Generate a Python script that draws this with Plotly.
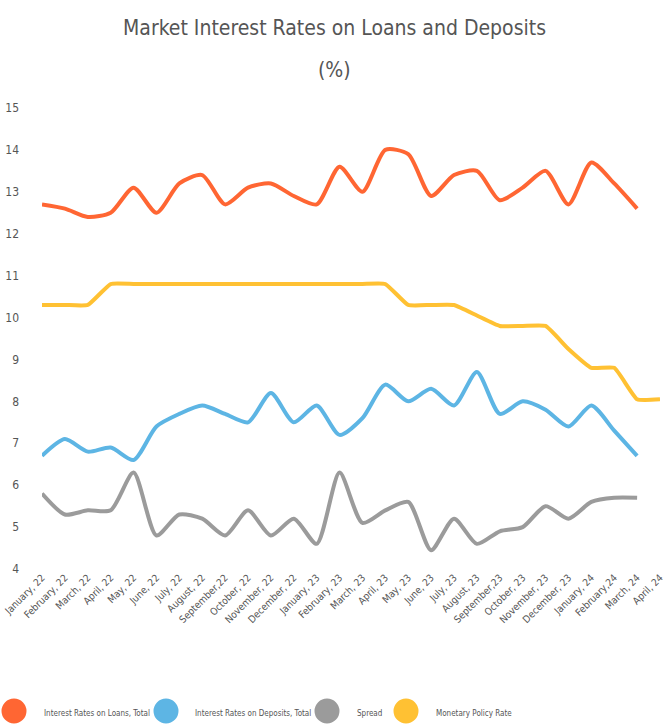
import plotly.graph_objects as go

months = ["January, 22", "February, 22", "March, 22", "April, 22", "May, 22", "June, 22",
          "July, 22", "August, 22", "September,22", "October, 22", "November, 22", "December, 22",
          "January, 23", "February, 23", "March, 23", "April, 23", "May, 23", "June, 23",
          "July, 23", "August, 23", "September,23", "October, 23", "November, 23", "December, 23",
          "January, 24", "February,24", "March, 24", "April, 24"]

loans = [12.7, 12.6, 12.4, 12.5, 13.1, 12.5, 13.2, 13.4, 12.7, 13.1, 13.2, 12.9, 12.7, 13.6,
         13.0, 14.0, 13.9, 12.9, 13.4, 13.5, 12.8, 13.1, 13.5, 12.7, 13.7, 13.2, 12.6]
deposits = [6.7, 7.1, 6.8, 6.9, 6.6, 7.4, 7.7, 7.9, 7.7, 7.5, 8.2, 7.5, 7.9, 7.2,
            7.6, 8.4, 8.0, 8.3, 7.9, 8.7, 7.7, 8.0, 7.8, 7.4, 7.9, 7.3, 6.7]
spread = [5.8, 5.3, 5.4, 5.4, 6.3, 4.8, 5.3, 5.2, 4.8, 5.4, 4.8, 5.2, 4.6, 6.3,
          5.1, 5.4, 5.6, 4.45, 5.2, 4.6, 4.9, 5.0, 5.5, 5.2, 5.6, 5.7, 5.7]
policy = [10.3, 10.3, 10.3, 10.8, 10.8, 10.8, 10.8, 10.8, 10.8, 10.8, 10.8, 10.8, 10.8, 10.8,
          10.8, 10.8, 10.3, 10.3, 10.3, 10.05, 9.8, 9.8, 9.8, 9.25, 8.8, 8.8, 8.05, 8.05]

names = ["Interest Rates on Loans, Total", "Interest Rates on Deposits, Total",
         "Spread", "Monetary Policy Rate"]
colors = ["#FF6633", "#5DB5E4", "#9B9B9B", "#FFC133"]
series = [loans, deposits, spread, policy]
smooth = [0.7, 0.7, 0.7, 0.4]  # policy rate is step-like, keep it from overshooting

FONT = "DejaVu Sans Condensed, DejaVu Sans, sans-serif"

fig = go.Figure()
for name, col, vals, sm in zip(names, colors, series, smooth):
    fig.add_trace(go.Scatter(x=months[:len(vals)], y=vals, mode="lines", name=name,
                             line=dict(color=col, width=4, shape="spline", smoothing=sm),
                             showlegend=False))

# hand-made legend with big circles
W, H = 669, 727
L, R, T, B = 42, 9, 108, 158
pw, ph = W - L - R, H - T - B
def px_x(px):
    return (px - L) / pw
def px_y(py):
    return (H - B - py) / ph

leg_circle_x = [14, 166, 327, 406]
leg_text_x = [42, 193, 355, 434]
shapes = []
annots = []
for name, col, cx, tx in zip(names, colors, leg_circle_x, leg_text_x):
    shapes.append(dict(type="circle", xref="paper", yref="paper", xsizemode="pixel", ysizemode="pixel",
                       xanchor=px_x(cx), yanchor=px_y(711), x0=-12.5, x1=12.5, y0=-12.5, y1=12.5,
                       fillcolor=col, line=dict(width=0)))
    annots.append(dict(text=name, xref="paper", yref="paper", x=px_x(tx), y=px_y(713),
                       xanchor="left", yanchor="middle", showarrow=False,
                       font=dict(size=8, color="#555555", family=FONT)))

annots.append(dict(text="Market Interest Rates on Loans and Deposits", xref="paper", yref="paper",
                   x=px_x(334), y=px_y(28), xanchor="center", yanchor="middle", showarrow=False,
                   font=dict(size=21, color="#555555", family=FONT)))
annots.append(dict(text="(%)", xref="paper", yref="paper",
                   x=px_x(334), y=px_y(70), xanchor="center", yanchor="middle", showarrow=False,
                   font=dict(size=21, color="#555555", family=FONT)))

fig.update_layout(
    width=W, height=H,
    margin=dict(l=L, r=R, t=T, b=B, autoexpand=False),
    plot_bgcolor="white", paper_bgcolor="white",
    font=dict(family=FONT, color="#555555"),
    shapes=shapes, annotations=annots,
    xaxis=dict(type="category", categoryorder="array", categoryarray=months, automargin=False,
               range=[0, len(months) - 1], showgrid=False, zeroline=False, showline=False,
               tickangle=-45, tickfont=dict(size=10, color="#555555"), ticks=""),
    yaxis=dict(range=[4, 15], dtick=1, showgrid=False, zeroline=False, showline=False, automargin=False,
               tickfont=dict(size=12, color="#555555"), ticklabelstandoff=22),
)

# page body has an 8px default margin; drop it so the figure fills the window
fig.write_html("out.html", config={"displayModeBar": False},
               post_script="document.body.style.margin='0';")
